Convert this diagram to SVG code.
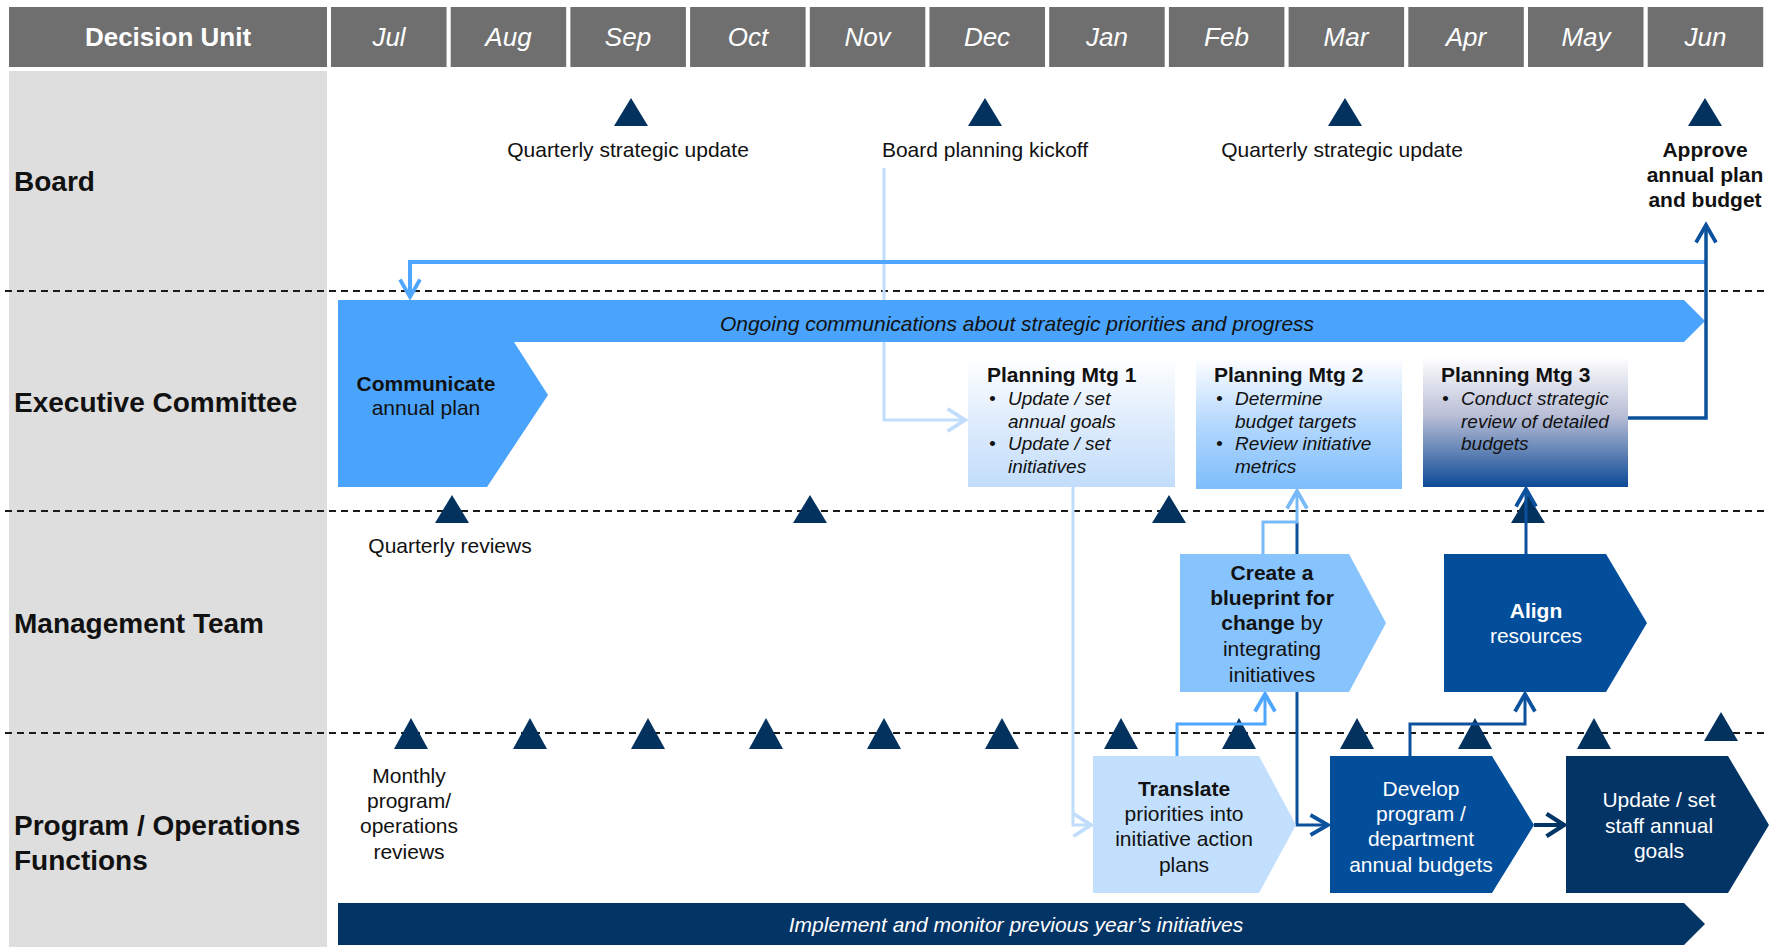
<svg xmlns="http://www.w3.org/2000/svg" width="1769" height="950" viewBox="0 0 1769 950">
<style>
text{font-family:"Liberation Sans",Arial,sans-serif;fill:#111}
.hdr{fill:#6f6f6f}
.ht{fill:#fff;font-size:26px;text-anchor:middle}
.mo{font-style:italic}
.row{font-size:28px;font-weight:bold}
.lbl{font-size:21px;text-anchor:middle}
.b{font-weight:bold}
.it{font-style:italic}
.sm{font-size:19px;font-style:italic}
.w{fill:#fff}
.tri{fill:#03325f}
.dash{stroke:#1a1a1a;stroke-width:2;stroke-dasharray:7 5;fill:none}
.c{fill:none;stroke-linejoin:miter}
</style>
<defs>
<linearGradient id="g1" x1="0" y1="0" x2="0" y2="1"><stop offset="0" stop-color="#ffffff"/><stop offset="0.55" stop-color="#dbeafc"/><stop offset="1" stop-color="#c2ddfb"/></linearGradient>
<linearGradient id="g2" x1="0" y1="0" x2="0" y2="1"><stop offset="0" stop-color="#ffffff"/><stop offset="0.5" stop-color="#b5d8fd"/><stop offset="1" stop-color="#7dbdfb"/></linearGradient>
<linearGradient id="g3" x1="0" y1="0" x2="0" y2="1"><stop offset="0" stop-color="#ffffff"/><stop offset="0.45" stop-color="#b9bed6"/><stop offset="1" stop-color="#0c4a96"/></linearGradient>
<marker id="aL" markerUnits="userSpaceOnUse" markerWidth="30" markerHeight="30" viewBox="-16 -12 20 24" refX="0" refY="0" orient="auto"><path d="M-14,-9 L0,0 L-14,9" fill="none" stroke="#c0ddfb" stroke-width="3"/></marker>
<marker id="aM" markerUnits="userSpaceOnUse" markerWidth="30" markerHeight="30" viewBox="-16 -12 20 24" refX="0" refY="0" orient="auto"><path d="M-14,-8 L0,0 L-14,8" fill="none" stroke="#4ea6ff" stroke-width="3"/></marker>
<marker id="aM2" markerUnits="userSpaceOnUse" markerWidth="30" markerHeight="30" viewBox="-16 -12 20 24" refX="0" refY="0" orient="auto"><path d="M-14,-8 L0,0 L-14,8" fill="none" stroke="#78b9f8" stroke-width="3"/></marker>
<marker id="aD" markerUnits="userSpaceOnUse" markerWidth="30" markerHeight="30" viewBox="-16 -12 20 24" refX="0" refY="0" orient="auto"><path d="M-14,-8 L0,0 L-14,8" fill="none" stroke="#0c519d" stroke-width="3"/></marker>
<marker id="aN" markerUnits="userSpaceOnUse" markerWidth="30" markerHeight="30" viewBox="-16 -12 20 24" refX="0" refY="0" orient="auto"><path d="M-14,-9 L0,0 L-14,9" fill="none" stroke="#033466" stroke-width="3.5"/></marker>
</defs>
<rect x="0" y="0" width="1769" height="950" fill="#fff"/>
<g id="header">
<rect class="hdr" x="9" y="7" width="318" height="60"/>
<text class="ht b" x="168" y="46">Decision Unit</text>
<rect class="hdr" x="331" y="7" width="115.5" height="60"/><text class="ht mo" x="389" y="46">Jul</text>
<rect class="hdr" x="450.7" y="7" width="115.5" height="60"/><text class="ht mo" x="508.5" y="46">Aug</text>
<rect class="hdr" x="570.4" y="7" width="115.5" height="60"/><text class="ht mo" x="628" y="46">Sep</text>
<rect class="hdr" x="690.1" y="7" width="115.5" height="60"/><text class="ht mo" x="748" y="46">Oct</text>
<rect class="hdr" x="809.8" y="7" width="115.5" height="60"/><text class="ht mo" x="867.5" y="46">Nov</text>
<rect class="hdr" x="929.5" y="7" width="115.5" height="60"/><text class="ht mo" x="987" y="46">Dec</text>
<rect class="hdr" x="1049.2" y="7" width="115.5" height="60"/><text class="ht mo" x="1107" y="46">Jan</text>
<rect class="hdr" x="1168.9" y="7" width="115.5" height="60"/><text class="ht mo" x="1226.5" y="46">Feb</text>
<rect class="hdr" x="1288.6" y="7" width="115.5" height="60"/><text class="ht mo" x="1346" y="46">Mar</text>
<rect class="hdr" x="1408.3" y="7" width="115.5" height="60"/><text class="ht mo" x="1466" y="46">Apr</text>
<rect class="hdr" x="1528" y="7" width="115.5" height="60"/><text class="ht mo" x="1586" y="46">May</text>
<rect class="hdr" x="1647.7" y="7" width="115.5" height="60"/><text class="ht mo" x="1705.5" y="46">Jun</text>
</g>
<g id="rows">
<rect x="9" y="71" width="318" height="876" fill="#dedede"/>
<text class="row" x="14" y="191">Board</text>
<text class="row" x="14" y="412">Executive Committee</text>
<text class="row" x="14" y="633">Management Team</text>
<text class="row" x="14" y="835">Program / Operations</text>
<text class="row" x="14" y="870">Functions</text>
<path class="dash" d="M5,291 H1769 M5,511 H1769 M5,733 H1769"/>
</g>
<g id="banner-implement">
<polygon points="338,903 1684,903 1705,924 1684,945 338,945" fill="#033466"/>
<text class="lbl it w" x="1016" y="932">Implement and monitor previous year’s initiatives</text>
</g>
<g id="milestones">
<polygon class="tri" points="614,126 648,126 631,98"/>
<polygon class="tri" points="968,126 1002,126 985,98"/>
<polygon class="tri" points="1328,126 1362,126 1345,98"/>
<polygon class="tri" points="1688,126 1722,126 1705,98"/>
<text class="lbl" x="628" y="157">Quarterly strategic update</text>
<text class="lbl" x="985" y="157">Board planning kickoff</text>
<text class="lbl" x="1342" y="157">Quarterly strategic update</text>
<text class="lbl b" x="1705" y="157">Approve<tspan x="1705" y="182">annual plan</tspan><tspan x="1705" y="207">and budget</tspan></text>
<polygon class="tri" points="435,523 469,523 452,495"/>
<polygon class="tri" points="793,523 827,523 810,495"/>
<polygon class="tri" points="1152,523 1186,523 1169,495"/>
<polygon class="tri" points="1511,523 1545,523 1528,495"/>
<text class="lbl" x="450" y="553">Quarterly reviews</text>
<polygon class="tri" points="394,749 428,749 411,718"/>
<polygon class="tri" points="513,749 547,749 530,718"/>
<polygon class="tri" points="631,749 665,749 648,718"/>
<polygon class="tri" points="749,749 783,749 766,718"/>
<polygon class="tri" points="867,749 901,749 884,718"/>
<polygon class="tri" points="985,749 1019,749 1002,718"/>
<polygon class="tri" points="1104,749 1138,749 1121,718"/>
<polygon class="tri" points="1222,749 1256,749 1239,718"/>
<polygon class="tri" points="1340,749 1374,749 1357,718"/>
<polygon class="tri" points="1458,749 1492,749 1475,718"/>
<polygon class="tri" points="1577,749 1611,749 1594,718"/>
<polygon class="tri" points="1704,741 1738,741 1721,712"/>
<text class="lbl" x="409" y="783">Monthly<tspan x="409" y="808">program/</tspan><tspan x="409" y="833">operations</tspan><tspan x="409" y="859">reviews</tspan></text>
</g>
<g id="connectors">
<path class="c" d="M884,168 V420 H965" stroke="#c0ddfb" stroke-width="3" marker-end="url(#aL)"/>
<path class="c" d="M1073,487 V825 H1091" stroke="#c0ddfb" stroke-width="3" marker-end="url(#aL)"/>
<path class="c" d="M1297,522 V825 H1328" stroke="#0c519d" stroke-width="3" marker-end="url(#aD)"/>
<path class="c" d="M1177,756 V724 H1265 V694" stroke="#4ea6ff" stroke-width="3" marker-end="url(#aM)"/>
<path class="c" d="M1263,554 V522 H1297 V491" stroke="#78b9f8" stroke-width="3" marker-end="url(#aM2)"/>
<path class="c" d="M1410,756 V724 H1525 V694" stroke="#0c519d" stroke-width="3" marker-end="url(#aD)"/>
<path class="c" d="M1526,554 V489" stroke="#0c519d" stroke-width="3" marker-end="url(#aD)"/>
<path class="c" d="M1534,825 H1564" stroke="#033466" stroke-width="4" marker-end="url(#aN)"/>
</g>
<g id="banner-ongoing">
<polygon points="338,300 1684,300 1705,321 1684,342 338,342" fill="#4aa4fd"/>
<text class="lbl it" x="1017" y="331">Ongoing communications about strategic priorities and progress</text>
</g>
<g id="communicate">
<polygon points="338,300 487,300 548,395 487,487 338,487" fill="#4aa4fd"/>
<text class="lbl" x="426" y="391"><tspan class="b">Communicate</tspan><tspan x="426" y="415">annual plan</tspan></text>
</g>
<g id="connectors-top">
<path class="c" d="M1705,262 H410 V297" stroke="#4ea6ff" stroke-width="4" marker-end="url(#aM)"/>
<path class="c" d="M1628,418 H1706 V225" stroke="#0c519d" stroke-width="3.5" marker-end="url(#aD)"/>
</g>
<g id="mtg1">
<rect x="968" y="358" width="207" height="129" fill="url(#g1)"/>
<text class="b" x="987" y="382" font-size="21">Planning Mtg 1</text>
<text class="sm" x="989" y="405" font-style="normal">•</text><text class="sm" x="1008" y="405">Update / set</text>
<text class="sm" x="1008" y="428">annual goals</text>
<text class="sm" x="989" y="450" font-style="normal">•</text><text class="sm" x="1008" y="450">Update / set</text>
<text class="sm" x="1008" y="473">initiatives</text>
</g>
<g id="mtg2">
<rect x="1196" y="357" width="206" height="132" fill="url(#g2)"/>
<text class="b" x="1214" y="382" font-size="21">Planning Mtg 2</text>
<text class="sm" x="1216" y="405" font-style="normal">•</text><text class="sm" x="1235" y="405">Determine</text>
<text class="sm" x="1235" y="428">budget targets</text>
<text class="sm" x="1216" y="450" font-style="normal">•</text><text class="sm" x="1235" y="450">Review initiative</text>
<text class="sm" x="1235" y="473">metrics</text>
</g>
<g id="mtg3">
<rect x="1423" y="357" width="205" height="130" fill="url(#g3)"/>
<text class="b" x="1441" y="382" font-size="21">Planning Mtg 3</text>
<text class="sm" x="1442" y="405" font-style="normal">•</text><text class="sm" x="1461" y="405">Conduct strategic</text>
<text class="sm" x="1461" y="428">review of detailed</text>
<text class="sm" x="1461" y="450">budgets</text>
</g>
<g id="create">
<polygon points="1180,554 1349,554 1386,623 1349,692 1180,692" fill="#87c3fd"/>
<text class="lbl" x="1272" y="580"><tspan class="b">Create a</tspan><tspan class="b" x="1272" y="605">blueprint for</tspan><tspan x="1272" y="630"><tspan class="b">change</tspan> by</tspan><tspan x="1272" y="656">integrating</tspan><tspan x="1272" y="682">initiatives</tspan></text>
</g>
<g id="align">
<polygon points="1444,554 1606,554 1647,623 1606,692 1444,692" fill="#034e9b"/>
<text class="lbl w" x="1536" y="618"><tspan class="b w">Align</tspan><tspan class="w" x="1536" y="643">resources</tspan></text>
</g>
<g id="translate">
<polygon points="1093,756 1259,756 1296,825 1259,893 1093,893" fill="#c2e0fd"/>
<text class="lbl" x="1184" y="796"><tspan class="b">Translate</tspan><tspan x="1184" y="821">priorities into</tspan><tspan x="1184" y="846">initiative action</tspan><tspan x="1184" y="872">plans</tspan></text>
</g>
<g id="develop">
<polygon points="1330,756 1492,756 1534,825 1492,893 1330,893" fill="#034e9b"/>
<text class="lbl w" x="1421" y="796">Develop<tspan x="1421" y="821">program /</tspan><tspan x="1421" y="846">department</tspan><tspan x="1421" y="872">annual budgets</tspan></text>
</g>
<g id="update">
<polygon points="1566,756 1728,756 1769,825 1728,893 1566,893" fill="#033466"/>
<text class="lbl w" x="1659" y="807">Update / set<tspan x="1659" y="833">staff annual</tspan><tspan x="1659" y="858">goals</tspan></text>
</g>
</svg>
